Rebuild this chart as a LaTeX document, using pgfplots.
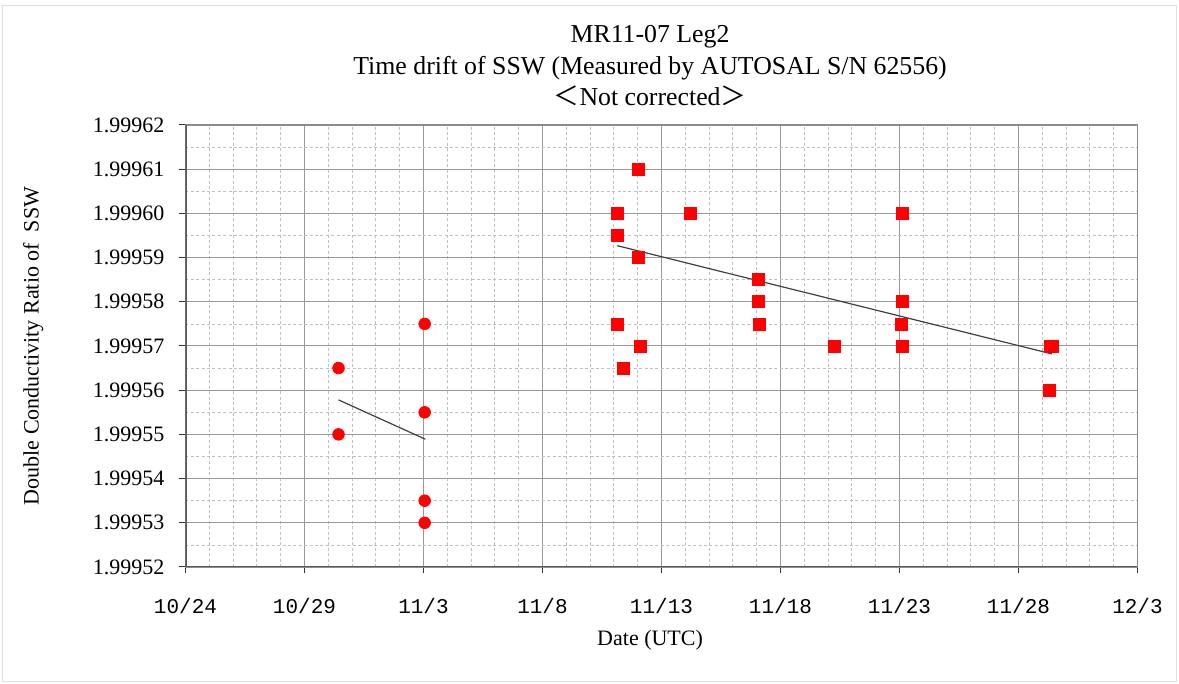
\documentclass[border=0pt]{standalone}
\usepackage{pgfplots}
\pgfplotsset{compat=1.18}
\usepackage{fontspec}
\setmainfont{Liberation Serif}
\newfontfamily\tickfont{Liberation Mono}
\newfontfamily\cjk{Noto Sans CJK JP}

% days since 10/24 (UTC), ratio
\pgfplotstableread{
x y
6.43 1.999565
6.43 1.99955
10.05 1.999575
10.05 1.999555
10.05 1.999535
10.05 1.99953
}\circledata

\pgfplotstableread{
x y
19.01 1.99961
18.14 1.99960
21.22 1.99960
30.13 1.99960
18.14 1.999595
19.01 1.99959
24.06 1.999585
24.06 1.99958
30.13 1.99958
18.14 1.999575
24.13 1.999575
30.07 1.999575
19.11 1.99957
27.25 1.99957
30.13 1.99957
36.32 1.99957
36.42 1.99957
18.39 1.999565
36.31 1.99956
}\squaredata

\begin{document}
\begin{tikzpicture}
\path[use as bounding box] (-92.75pt,-58.5pt) rectangle (496.75pt,283.5pt);
\draw[black!12] (-91.5pt,-57pt) rectangle (495.5pt,281pt);
\begin{axis}[
  at={(0,0)}, anchor=south west,
  scale only axis, width=476pt, height=221pt,
  xmin=0, xmax=40, ymin=1.99952, ymax=1.99962,
  xtick={0,5,10,15,20,25,30,35,40},
  xticklabels={10/24,10/29,11/3,11/8,11/13,11/18,11/23,11/28,12/3},
  ytick={1.99952,1.99953,1.99954,1.99955,1.99956,1.99957,1.99958,1.99959,1.99960,1.99961,1.99962},
  minor x tick num=4,
  minor y tick num=1,
  grid=both,
  major grid style={black!40, line width=0.5pt},
  minor grid style={black!25, dash pattern=on 1.5pt off 1.2pt, line width=0.4pt},
  axis line style={black!45, line width=0.6pt},
  tick align=outside,
  xtick pos=left, ytick pos=left,
  major tick length=3pt, minor tick length=0pt,
  tick style={black!80, line width=0.5pt},
  /pgf/number format/fixed,
  /pgf/number format/fixed zerofill,
  /pgf/number format/precision=5,
  /pgf/number format/assume math mode=true,
  yticklabel style={font=\fontsize{11}{13}\selectfont, xshift=-4pt},
  xticklabel style={font=\tickfont\fontsize{10.5}{12}\selectfont, anchor=north, yshift=-9pt},
  title={MR11-07 Leg2\\Time drift of SSW (Measured by AUTOSAL S/N 62556)\\{\cjk ＜}Not corrected{\cjk ＞}},
  title style={font=\fontsize{12.9}{15.6}\selectfont, align=center, at={(0.488,1)}, anchor=south, inner sep=0pt, yshift=3.5pt},
  xlabel={Date (UTC)},
  xlabel style={font=\fontsize{11}{13}\selectfont, at={(axis description cs:0.488,-0.165)}, anchor=center},
  ylabel={Double Conductivity Ratio of\ \ SSW},
  ylabel style={font=\fontsize{11}{13}\selectfont, at={(axis description cs:-0.16,0.5)}, anchor=center},
]
\addplot[only marks, mark=*, mark size=2.9pt, red, mark options={draw=red, fill=red}] table {\circledata};
\addplot[only marks, mark=square*, mark size=3pt, red, mark options={draw=red, fill=red}] table {\squaredata};
\addplot[black!75, line width=0.6pt] coordinates {(6.43,1.9995578) (10.08,1.9995489)};
\addplot[black!75, line width=0.6pt] coordinates {(18.14,1.9995927) (36.40,1.9995682)};
\draw[black!65, line width=1.1pt] (rel axis cs:0,1) -- (rel axis cs:0,0) -- (rel axis cs:1,0);
\end{axis}
\end{tikzpicture}
\end{document}
